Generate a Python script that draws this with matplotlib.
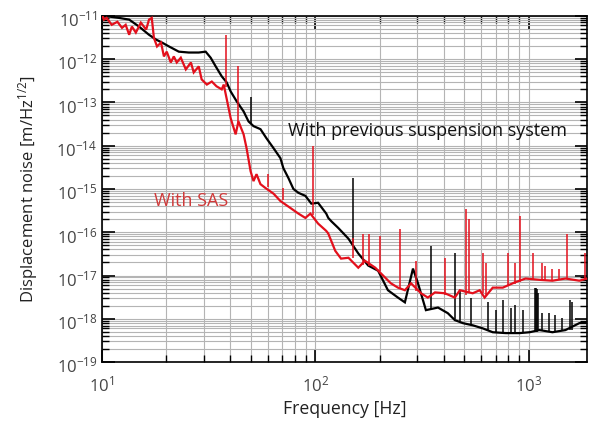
import matplotlib

matplotlib.use("Agg")
import matplotlib.pyplot as plt
import matplotlib.transforms as mtransforms
import numpy as np
from matplotlib.ticker import LogLocator, NullFormatter

plt.rcParams["font.family"] = ["Open Sans", "DejaVu Sans"]
plt.rcParams["mathtext.fontset"] = "custom"
plt.rcParams["mathtext.rm"] = "Open Sans"
plt.rcParams["mathtext.it"] = "Open Sans"

# black: previous suspension system (freq Hz, log10 of amplitude in m/Hz^1/2)
prev_freq = [10, 10.8, 12.0, 13.4, 14.9, 16.6, 17.9, 19.1, 20.6, 22.9, 25.5, 28.4, 30.6,
             32.3, 34.1, 36.4, 38.4, 40.1, 42.8, 46.1, 48.6, 51.3, 55.3, 59.0, 63.7, 68.6,
             70.8, 74.8, 78.9, 83.3, 89.8, 95.8, 103, 112.5, 115, 119, 128, 143, 159, 177,
             197, 219, 244, 263, 287, 303, 330, 376, 418, 451, 492, 547, 609, 679, 782,
             908, 1011, 1125, 1294, 1489, 1730, 1880]
prev_exp = [-11.02, -11.02, -11.05, -11.09, -11.25, -11.44, -11.55, -11.62, -11.71, -11.83,
            -11.85, -11.85, -11.83, -11.97, -12.17, -12.40, -12.54, -12.75, -12.98, -13.21,
            -13.44, -13.55, -13.62, -13.83, -14.06, -14.29, -14.52, -14.75, -15.00, -15.09,
            -15.16, -15.34, -15.32, -15.57, -15.67, -15.75, -15.90, -16.15, -16.49, -16.77,
            -16.89, -17.34, -17.51, -17.62, -16.84, -17.18, -17.80, -17.74, -17.87, -18.03,
            -18.10, -18.15, -18.22, -18.31, -18.33, -18.33, -18.31, -18.26, -18.31, -18.26,
            -18.10, -18.08]
prev_spike_freq = [50.2, 151, 348, 451, 476, 536, 643, 701, 757, 824, 861, 938, 1067, 1080,
                   1095, 1110, 1161, 1253, 1337, 1442, 1571, 1590]
prev_spike_base = [-13.50, -16.25, -17.78, -18.00, -18.05, -18.15, -18.25, -18.30, -18.32,
                   -18.33, -18.33, -18.33, -18.31, -18.30, -18.30, -18.28, -18.28, -18.30,
                   -18.30, -18.28, -18.26, -18.26]
prev_spike_top = [-12.88, -14.75, -16.33, -16.49, -17.34, -17.51, -17.62, -17.80, -17.57,
                  -17.76, -17.69, -17.80, -17.28, -17.30, -17.32, -17.40, -17.87, -17.87,
                  -17.92, -17.97, -17.57, -17.62]

# red: with SAS
sas_freq = [10, 10.2, 10.5, 11.1, 11.8, 12.4, 12.9, 13.4, 13.8, 14.4, 15.2, 16.1, 16.6,
            17.1, 17.5, 18.1, 18.9, 19.5, 20.1, 21.0, 21.7, 22.4, 23.4, 24.7, 26.1, 26.9,
            28.4, 29.3, 31.0, 32.7, 34.4, 36.4, 37.2, 40.1, 42.3, 43.6, 46.1, 47.6, 49.7,
            51.3, 53.0, 55.3, 58.4, 63.7, 68.6, 76.4, 83.3, 89.8, 94.8, 103, 112.5, 115,
            124, 132, 143, 159, 171, 191, 203, 226, 244, 263, 281, 313, 337, 364, 405,
            451, 476, 547, 590, 622, 679, 757, 861, 968, 1125, 1294, 1489, 1730, 1880]
sas_exp = [-10.98, -11.09, -11.05, -11.21, -11.14, -11.28, -11.21, -11.44, -11.25, -11.39,
           -11.16, -11.32, -11.09, -11.05, -11.51, -11.71, -11.62, -11.94, -11.83, -12.08,
           -11.94, -12.08, -11.97, -12.24, -12.08, -12.31, -12.17, -12.47, -12.59, -12.52,
           -12.63, -12.70, -12.59, -13.37, -13.74, -13.44, -13.74, -14.06, -14.59, -14.82,
           -14.66, -14.89, -14.98, -15.11, -15.28, -15.44, -15.57, -15.67, -15.57, -15.80,
           -15.97, -16.03, -16.43, -16.61, -16.59, -16.82, -16.66, -16.82, -16.95, -17.18,
           -17.28, -17.34, -17.18, -17.41, -17.51, -17.39, -17.41, -17.51, -17.34, -17.41,
           -17.34, -17.51, -17.28, -17.28, -17.16, -17.07, -17.10, -17.12, -17.07, -17.12,
           -17.07]
sas_spike_freq = [38.0, 43.6, 60.3, 70.8, 98, 151, 167, 179, 201, 250, 297, 405, 508, 525,
                  609, 630, 798, 861, 908, 1045, 1161, 1200, 1294, 1396, 1522, 1847]
sas_spike_base = [-12.65, -13.50, -14.95, -15.25, -15.60, -16.60, -16.75, -16.78, -16.90,
                  -17.30, -17.35, -17.45, -17.45, -17.40, -17.40, -17.45, -17.25, -17.20,
                  -17.15, -17.10, -17.10, -17.10, -17.10, -17.08, -17.08, -17.07]
sas_spike_top = [-11.44, -12.17, -14.66, -14.98, -14.01, -16.13, -16.03, -16.03, -16.08,
                 -15.92, -16.66, -16.59, -15.46, -15.69, -16.49, -16.70, -16.49, -16.70,
                 -15.62, -16.49, -16.70, -16.77, -16.84, -16.84, -16.03, -16.49]

BLACK = "#000000"
RED = "#e3101c"


def draw_series(ax, freq, exp, spike_freq, spike_base, spike_top, color, lw):
    ax.plot(freq, np.power(10.0, exp), color=color, lw=lw, zorder=3, solid_joinstyle="miter")
    ax.vlines(spike_freq, np.power(10.0, spike_base), np.power(10.0, spike_top),
              color=color, lw=1.1, zorder=3)


fig = plt.figure(figsize=(5.9, 4.25), dpi=100)
ax = fig.add_axes([0.173, 0.148, 0.822, 0.815])

draw_series(ax, prev_freq, prev_exp, prev_spike_freq, prev_spike_base, prev_spike_top, BLACK, 1.6)
draw_series(ax, sas_freq, sas_exp, sas_spike_freq, sas_spike_base, sas_spike_top, RED, 1.6)

ax.set_xscale("log")
ax.set_yscale("log")
ax.set_xlim(10, 1880)
ax.set_ylim(1e-19, 1e-11)

# only decades inside the view, so no stray labels sit outside the figure
ax.set_xticks(10.0 ** np.arange(1, 4))
ax.set_yticks(10.0 ** np.arange(-19, -10))
ax.xaxis.set_minor_locator(LogLocator(base=10, subs=np.arange(2, 10), numticks=20))
ax.yaxis.set_minor_locator(LogLocator(base=10, subs=np.arange(2, 10), numticks=20))
ax.xaxis.set_minor_formatter(NullFormatter())
ax.yaxis.set_minor_formatter(NullFormatter())

ax.grid(True, which="both", color="#b4b4b4", lw=0.8, zorder=0)
ax.set_axisbelow(True)
ax.tick_params(which="both", direction="in", top=True, right=True, color="black",
               labelsize=12, labelcolor="#444444")
ax.tick_params(which="major", length=9, width=1.2)
ax.tick_params(which="minor", length=5, width=1.0)
ax.tick_params(axis="x", which="major", pad=10)
# nudge y tick labels down a little, like the original
shift = mtransforms.ScaledTranslation(0, -2 / 72, fig.dpi_scale_trans)
for lab in ax.get_yticklabels():
    lab.set_verticalalignment("center_baseline")
    lab.set_transform(lab.get_transform() + shift)
for spine in ax.spines.values():
    spine.set_linewidth(1.2)

ax.set_xlabel("Frequency [Hz]", fontsize=12.7, color="#222222", labelpad=3)
ax.set_ylabel("Displacement noise [m/Hz$^{1/2}$]", fontsize=12, color="#222222", labelpad=12)

ax.text(74.8, 10 ** -13.67, "With previous suspension system", fontsize=13,
        color="#111111", va="center", ha="left")
ax.text(17.5, 10 ** -15.28, "With SAS", fontsize=13, color="#d03a3a", va="center", ha="left")

fig.savefig("out.png", dpi=100)
